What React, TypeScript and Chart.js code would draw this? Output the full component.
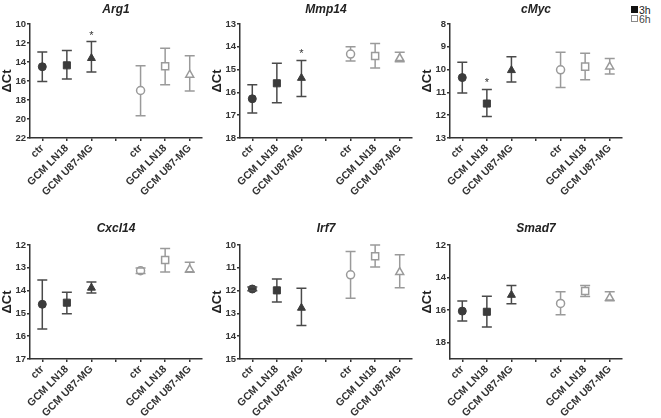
import React, { useEffect, useRef } from 'react';
import { Chart, registerables } from 'chart.js';
Chart.register(...registerables);

// x categories (empty slot separates 3h and 6h groups)
const categories = ['ctr', 'GCM LN18', 'GCM U87-MG', '', 'ctr', 'GCM LN18', 'GCM U87-MG'];
const seriesNames = ['3h', '6h'];
// order of the 6 values: 3h ctr, 3h LN18, 3h U87-MG, 6h ctr, 6h LN18, 6h U87-MG
const arg1Mean = [14.5, 14.35, 13.6, 17.0, 14.45, 15.35];
const arg1Lo = [12.95, 12.8, 11.85, 14.4, 12.55, 13.35];
const arg1Hi = [16.05, 15.8, 15.05, 19.65, 16.4, 17.05];
const arg1Stars = [2];

const mmp14Mean = [16.28, 15.6, 15.37, 14.32, 14.4, 14.5];
const mmp14Lo = [15.66, 14.72, 14.6, 14.0, 13.85, 14.24];
const mmp14Hi = [16.9, 16.45, 16.18, 14.62, 14.93, 14.66];
const mmp14Stars = [2];

const cmycMean = [10.35, 11.49, 10.03, 10.01, 9.87, 9.87];
const cmycLo = [9.68, 10.87, 9.44, 9.24, 9.28, 9.51];
const cmycHi = [11.03, 12.06, 10.54, 10.78, 10.44, 10.19];
const cmycStars = [1];

const cxcl14Mean = [14.6, 14.53, 13.88, 13.13, 12.66, 13.07];
const cxcl14Lo = [13.53, 14.07, 13.62, 13.01, 12.15, 12.76];
const cxcl14Hi = [15.68, 15.01, 14.1, 13.25, 13.18, 13.2];
const cxcl14Stars: number[] = [];

const irf7Mean = [11.93, 11.99, 12.76, 11.31, 10.49, 11.19];
const irf7Lo = [11.84, 11.49, 11.9, 10.28, 10.0, 10.43];
const irf7Hi = [12.01, 12.5, 13.53, 12.34, 10.97, 11.88];
const irf7Stars: number[] = [];

const smad7Mean = [16.06, 16.1, 15.07, 15.59, 14.83, 15.24];
const smad7Lo = [15.44, 15.14, 14.48, 14.87, 14.48, 14.87];
const smad7Hi = [16.67, 17.04, 15.6, 16.28, 15.16, 15.42];
const smad7Stars: number[] = [];

const geneNames = ['Arg1', 'Mmp14', 'cMyc', 'Cxcl14', 'Irf7', 'Smad7'];
const axisMin = [10, 13, 8, 12, 10, 12];
const axisMax = [22, 18, 13, 17, 15, 19];
const axisStep = [2, 1, 1, 1, 1, 2];

const panels = [
  { mean: arg1Mean, lo: arg1Lo, hi: arg1Hi, stars: arg1Stars },
  { mean: mmp14Mean, lo: mmp14Lo, hi: mmp14Hi, stars: mmp14Stars },
  { mean: cmycMean, lo: cmycLo, hi: cmycHi, stars: cmycStars },
  { mean: cxcl14Mean, lo: cxcl14Lo, hi: cxcl14Hi, stars: cxcl14Stars },
  { mean: irf7Mean, lo: irf7Lo, hi: irf7Hi, stars: irf7Stars },
  { mean: smad7Mean, lo: smad7Lo, hi: smad7Hi, stars: smad7Stars },
];

const FONT = '"Liberation Sans", Arial, Helvetica, sans-serif';
const DARK = '#3b3b3b';
const DARK_BAR = '#4a4a4a';
const LIGHT = '#9a9a9a';
const AXIS = '#333333';
const slots = [0, 1, 2, 4, 5, 6];
const shapes = ['circle', 'rect', 'triangle'];
const radii = [4, 5, 4.6];

const CW = 210;
const CH = 197;
const PLOT_TOP = 24;
const PLOT_H = 114;

function buildSeries(values: number[], s: number) {
  const out: (number | null)[] = categories.map(() => null);
  for (let k = 0; k < 3; k++) out[slots[s * 3 + k]] = values[s * 3 + k];
  return out;
}

const errorBarPlugin = {
  id: 'errorBars',
  beforeDatasetsDraw(chart: any) {
    drawBars(chart, 'stem');
  },
  afterDatasetsDraw(chart: any) {
    drawBars(chart, 'cap');
    const { ctx } = chart;
    const x = chart.scales.x;
    const y = chart.scales.y;
    const stars: number[] = chart.options.plugins.errorBars?.stars || [];
    const lo: number[] = chart.options.plugins.errorBars?.lo || [];
    ctx.save();
    ctx.fillStyle = AXIS;
    ctx.font = `11px ${FONT}`;
    ctx.textAlign = 'center';
    ctx.textBaseline = 'alphabetic';
    stars.forEach((k) => {
      const px = x.getPixelForValue(slots[k]);
      const py = y.getPixelForValue(lo[k]);
      ctx.fillText('*', px, py - 3);
    });
    ctx.restore();
  },
};

function drawBars(chart: any, part: string) {
  const { ctx } = chart;
  const x = chart.scales.x;
  const y = chart.scales.y;
  chart.data.datasets.forEach((ds: any) => {
    ds.errLo.forEach((lo: number | null, i: number) => {
      if (lo == null) return;
      const hi = ds.errHi[i];
      const px = x.getPixelForValue(i);
      const pLo = y.getPixelForValue(lo);
      const pHi = y.getPixelForValue(hi);
      ctx.save();
      ctx.strokeStyle = ds.errColor;
      ctx.lineWidth = 1.5;
      ctx.beginPath();
      if (part === 'stem') {
        ctx.moveTo(px, pLo);
        ctx.lineTo(px, pHi);
      } else {
        ctx.moveTo(px - 5, pLo);
        ctx.lineTo(px + 5, pLo);
        ctx.moveTo(px - 5, pHi);
        ctx.lineTo(px + 5, pHi);
      }
      ctx.stroke();
      ctx.restore();
    });
  });
}

function Panel({ index, left, top, titleTop }: { index: number; left: number; top: number; titleTop: number }) {
  const ref = useRef<HTMLCanvasElement>(null);
  useEffect(() => {
    const p = panels[index];
    const min = axisMin[index];
    const max = axisMax[index];
    const step = axisStep[index];
    const pointStyle = categories.map((_, i) => shapes[i < 3 ? i : Math.max(i - 4, 0)]);
    const pointRadius = categories.map((_, i) => (i === 3 ? 0 : radii[i < 3 ? i : i - 4]));
    const chart = new Chart(ref.current!, {
      type: 'line',
      data: {
        labels: categories,
        datasets: seriesNames.map((name, s) => ({
          label: name,
          data: buildSeries(p.mean, s),
          errLo: buildSeries(p.lo, s),
          errHi: buildSeries(p.hi, s),
          errColor: s === 0 ? DARK_BAR : LIGHT,
          showLine: false,
          pointStyle,
          pointRadius,
          pointHoverRadius: pointRadius,
          backgroundColor: s === 0 ? DARK : '#ffffff',
          borderColor: s === 0 ? DARK : LIGHT,
          pointBorderWidth: s === 0 ? 1 : 1.5,
        })) as any,
      },
      options: {
        responsive: false,
        animation: false,
        devicePixelRatio: 1,
        layout: { padding: { top: 0, right: 8, bottom: 0, left: 0 } },
        plugins: {
          legend: { display: false },
          tooltip: { enabled: false },
          title: {
            display: true,
            text: geneNames[index],
            fullSize: false,
            color: '#222',
            font: { family: FONT, size: 12, weight: 'bold', style: 'italic', lineHeight: 1.2 },
            padding: { top: titleTop, bottom: PLOT_TOP - titleTop - 14.4 },
          },
          errorBars: { stars: p.stars, lo: p.lo },
        } as any,
        scales: {
          x: {
            type: 'category',
            offset: true,
            border: { display: true, color: AXIS, width: 1.5 },
            grid: { display: true, drawOnChartArea: false, drawTicks: true, tickLength: 3, color: AXIS, lineWidth: 1.5, offset: false },
            ticks: {
              autoSkip: false,
              maxRotation: 45,
              minRotation: 45,
              padding: 1,
              color: AXIS,
              font: { family: FONT, size: 10.5, weight: 'bold' },
            },
            afterFit: (s: any) => {
              s.height = CH - PLOT_TOP - PLOT_H;
            },
          },
          y: {
            type: 'linear',
            reverse: true,
            min,
            max,
            border: { display: true, color: AXIS, width: 1.5 },
            grid: { display: true, drawOnChartArea: false, drawTicks: true, tickLength: 3, color: AXIS, lineWidth: 1.5 },
            ticks: {
              stepSize: step,
              padding: 1,
              color: AXIS,
              font: { family: FONT, size: 9.5, weight: 'bold' },
            },
            afterBuildTicks: (s: any) => {
              s.ticks = s.ticks.filter((t: any) => Math.abs(((t.value - min) / step) - Math.round((t.value - min) / step)) < 1e-6);
            },
            title: {
              display: true,
              text: 'ΔCt',
              color: '#222',
              padding: 0,
              font: { family: FONT, size: 13, weight: 'bold' },
            },
            afterFit: (s: any) => {
              s.width = 30;
            },
          },
        },
      },
      plugins: [errorBarPlugin as any],
    });
    return () => chart.destroy();
  }, [index, titleTop]);
  return (
    <canvas
      ref={ref}
      width={CW}
      height={CH}
      style={{ position: 'absolute', left, top, width: CW, height: CH }}
    />
  );
}

export default function App() {
  const sqBase = { position: 'absolute' as const, left: 631, width: 7, height: 7, boxSizing: 'border-box' as const };
  const txt = { position: 'absolute' as const, left: 639, fontSize: 10.5, lineHeight: '10px', height: 10, whiteSpace: 'nowrap' as const };
  return (
    <div style={{ position: 'fixed', left: 0, top: 0, width: 661, height: 418, background: '#fff', overflow: 'hidden', fontFamily: FONT }}>
      {[0, 1, 2, 3, 4, 5].map((i) => (
        <Panel key={i} index={i} left={(i % 3) * 210} top={i < 3 ? 0 : 221} titleTop={i < 3 ? 2 : 0} />
      ))}
      <span style={{ ...sqBase, top: 6, background: '#111111' }} />
      <span style={{ ...txt, top: 5, color: '#222222' }}>{seriesNames[0]}</span>
      <span style={{ ...sqBase, top: 14.5, border: '1px solid #8a8a8a', background: '#ffffff' }} />
      <span style={{ ...txt, top: 13.5, color: '#444444' }}>{seriesNames[1]}</span>
    </div>
  );
}
